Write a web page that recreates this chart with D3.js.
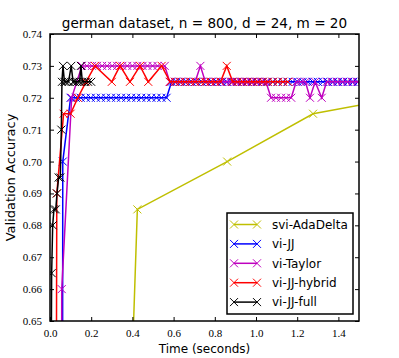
<!DOCTYPE html>
<html>
<head>
<meta charset="UTF-8">
<style>
    body { margin: 0; background: #fff; }
    svg { display: block; }
    .tick-label { font-family: "Liberation Serif", serif; font-size: 11px; }
    .sans { font-family: "DejaVu Sans", sans-serif; }
</style>
<script src="https://d3js.org/d3.v7.min.js"></script>
</head>
<body>
<svg id="chart" width="399" height="358"></svg>
<script>
    // 各条曲线的数据 [时间(秒), 验证准确率]
    const sviAdaDelta = [[0.38, 0.60], [0.424, 0.685], [0.86, 0.70], [1.277, 0.715], [1.71, 0.7202]];

    const viJJ = [
        [0.060, 0.55], [0.062, 0.70], [0.100, 0.72], [0.125, 0.72], [0.149, 0.72], [0.174, 0.72], [0.198, 0.72],
        [0.223, 0.72], [0.247, 0.72], [0.272, 0.72], [0.296, 0.72], [0.321, 0.72], [0.345, 0.72], [0.370, 0.72],
        [0.394, 0.72], [0.419, 0.72], [0.443, 0.72], [0.468, 0.72], [0.492, 0.72], [0.517, 0.72], [0.541, 0.72],
        [0.566, 0.72], [0.590, 0.725], [0.614, 0.725], [0.639, 0.725], [0.663, 0.725], [0.688, 0.725], [0.712, 0.725],
        [0.737, 0.725], [0.761, 0.725], [0.786, 0.725], [0.810, 0.725], [0.835, 0.725], [0.859, 0.725], [0.884, 0.725],
        [0.908, 0.725], [0.933, 0.725], [0.957, 0.725], [0.982, 0.725], [1.006, 0.725], [1.031, 0.725], [1.055, 0.725],
        [1.080, 0.725], [1.104, 0.725], [1.129, 0.725], [1.153, 0.725], [1.178, 0.725], [1.202, 0.725], [1.227, 0.725],
        [1.251, 0.725], [1.276, 0.725], [1.300, 0.725], [1.325, 0.725], [1.349, 0.725], [1.374, 0.725], [1.398, 0.725],
        [1.423, 0.725], [1.447, 0.725], [1.472, 0.725], [1.496, 0.725], [1.521, 0.725]
    ];

    const viTaylor = [
        [0.055, 0.55], [0.057, 0.66], [0.105, 0.72], [0.155, 0.73], [0.179, 0.73], [0.204, 0.73], [0.228, 0.73],
        [0.253, 0.73], [0.277, 0.73], [0.302, 0.73], [0.326, 0.73], [0.351, 0.73], [0.375, 0.73], [0.400, 0.73],
        [0.424, 0.73], [0.449, 0.73], [0.473, 0.73], [0.498, 0.73], [0.522, 0.73], [0.557, 0.73], [0.581, 0.725],
        [0.606, 0.725], [0.630, 0.725], [0.655, 0.725], [0.680, 0.725], [0.705, 0.725], [0.730, 0.73], [0.754, 0.725],
        [0.779, 0.725], [0.803, 0.725], [0.828, 0.725], [0.852, 0.725], [0.877, 0.725], [0.901, 0.725], [0.926, 0.725],
        [0.950, 0.725], [0.975, 0.725], [0.999, 0.725], [1.024, 0.725], [1.048, 0.725], [1.073, 0.72], [1.097, 0.72],
        [1.122, 0.72], [1.146, 0.72], [1.171, 0.72], [1.195, 0.725], [1.218, 0.725], [1.240, 0.725], [1.262, 0.72],
        [1.287, 0.725], [1.319, 0.72], [1.343, 0.725], [1.367, 0.725], [1.392, 0.725], [1.416, 0.725], [1.441, 0.725],
        [1.465, 0.725], [1.490, 0.725], [1.514, 0.725]
    ];

    const viJJHybrid = [
        [0.028, 0.55], [0.033, 0.69], [0.066, 0.715], [0.100, 0.715], [0.135, 0.72], [0.175, 0.725], [0.218, 0.73],
        [0.300, 0.725], [0.340, 0.73], [0.388, 0.725], [0.437, 0.73], [0.477, 0.725], [0.542, 0.73], [0.583, 0.725],
        [0.607, 0.725], [0.632, 0.725], [0.656, 0.725], [0.681, 0.725], [0.705, 0.725], [0.730, 0.725], [0.754, 0.725],
        [0.779, 0.725], [0.803, 0.725], [0.828, 0.725], [0.858, 0.73], [0.887, 0.725], [0.911, 0.725], [0.936, 0.725],
        [0.960, 0.725], [0.985, 0.725], [1.009, 0.725], [1.034, 0.725], [1.058, 0.725], [1.083, 0.725], [1.107, 0.725],
        [1.132, 0.725], [1.156, 0.725]
    ];

    const viJJFull = [
        [0.003, 0.60], [0.008, 0.665], [0.013, 0.68], [0.019, 0.685], [0.028, 0.685], [0.034, 0.69], [0.042, 0.695],
        [0.050, 0.695], [0.055, 0.71], [0.058, 0.725], [0.063, 0.73], [0.070, 0.725], [0.078, 0.725], [0.090, 0.725],
        [0.103, 0.73], [0.112, 0.725], [0.120, 0.725], [0.132, 0.725], [0.144, 0.725], [0.150, 0.73], [0.157, 0.725],
        [0.168, 0.725], [0.185, 0.725], [0.200, 0.725]
    ];

    const seriesNames = ["svi-AdaDelta", "vi-JJ", "vi-Taylor", "vi-JJ-hybrid", "vi-JJ-full"];
    const seriesData = [sviAdaDelta, viJJ, viTaylor, viJJHybrid, viJJFull];
    const seriesColors = ["#bfbf00", "#0000ff", "#bf00bf", "#ff0000", "#000000"];

    const xTicks = [0.0, 0.2, 0.4, 0.6, 0.8, 1.0, 1.2, 1.4];
    const yTicks = [0.65, 0.66, 0.67, 0.68, 0.69, 0.70, 0.71, 0.72, 0.73, 0.74];

    const svg = d3.select("#chart");
    const margin = { top: 34, right: 40, bottom: 37, left: 50 };
    const width = 399 - margin.left - margin.right;
    const height = 358 - margin.top - margin.bottom;

    const g = svg.append("g")
        .attr("transform", `translate(${margin.left},${margin.top})`);

    const x = d3.scaleLinear().domain([0, 1.5]).range([0, width]);
    const y = d3.scaleLinear().domain([0.65, 0.74]).range([height, 0]);

    // 裁剪区域
    svg.append("defs").append("clipPath").attr("id", "clip")
        .append("rect").attr("width", width).attr("height", height);

    const plot = g.append("g").attr("clip-path", "url(#clip)");

    // x 形标记
    function drawMarker(sel, cx, cy, color, r) {
        sel.append("path")
            .attr("d", `M${cx - r},${cy - r}L${cx + r},${cy + r}M${cx - r},${cy + r}L${cx + r},${cy - r}`)
            .attr("stroke", color)
            .attr("stroke-width", 1)
            .attr("fill", "none");
    }

    const line = d3.line().x(d => x(d[0])).y(d => y(d[1]));

    seriesData.forEach((data, i) => {
        plot.append("path")
            .datum(data)
            .attr("fill", "none")
            .attr("stroke", seriesColors[i])
            .attr("stroke-width", 1.5)
            .attr("d", line);
        const mg = plot.append("g");
        data.forEach(d => drawMarker(mg, x(d[0]), y(d[1]), seriesColors[i], 4));
    });

    // 坐标轴（刻度朝内）
    g.append("g")
        .attr("transform", `translate(0,${height})`)
        .call(d3.axisBottom(x).tickValues(xTicks).tickSizeInner(-4).tickSizeOuter(0).tickPadding(8).tickFormat(d3.format(".1f")))
        .call(a => a.select(".domain").remove())
        .selectAll("text").attr("class", "tick-label");

    g.append("g")
        .call(d3.axisTop(x).tickValues(xTicks).tickSizeInner(-4).tickSizeOuter(0).tickFormat(""))
        .call(a => a.select(".domain").remove());

    g.append("g")
        .call(d3.axisLeft(y).tickValues(yTicks).tickSizeInner(-4).tickSizeOuter(0).tickPadding(8).tickFormat(d3.format(".2f")))
        .call(a => a.select(".domain").remove())
        .selectAll("text").attr("class", "tick-label");

    g.append("g")
        .attr("transform", `translate(${width},0)`)
        .call(d3.axisRight(y).tickValues(yTicks).tickSizeInner(-4).tickSizeOuter(0).tickFormat(""))
        .call(a => a.select(".domain").remove());

    g.selectAll(".tick line").attr("stroke", "#000").attr("stroke-width", 1);
    g.selectAll(".tick-label").attr("fill", "#000").style("font-size", "11px");

    // 边框
    g.append("rect")
        .attr("width", width).attr("height", height)
        .attr("fill", "none").attr("stroke", "#000").attr("stroke-width", 1.5);

    // 标题和轴标签
    svg.append("text").attr("class", "sans")
        .attr("x", margin.left + width / 2).attr("y", 28)
        .attr("text-anchor", "middle").style("font-size", "13.6px")
        .text("german dataset, n = 800, d = 24, m = 20");

    svg.append("text").attr("class", "sans")
        .attr("x", margin.left + width / 2).attr("y", 353)
        .attr("text-anchor", "middle").style("font-size", "12px")
        .text("Time (seconds)");

    svg.append("text").attr("class", "sans")
        .attr("transform", `translate(15,${margin.top + height / 2}) rotate(-90)`)
        .attr("text-anchor", "middle").style("font-size", "13px")
        .text("Validation Accuracy");

    // 图例
    const legend = svg.append("g").attr("transform", "translate(227,213)");
    legend.append("rect")
        .attr("width", 126).attr("height", 101)
        .attr("fill", "#fff").attr("stroke", "#000").attr("stroke-width", 1.5);

    seriesNames.forEach((name, i) => {
        const ly = 11.5 + i * 19.4;
        legend.append("line")
            .attr("x1", 7).attr("x2", 30).attr("y1", ly).attr("y2", ly)
            .attr("stroke", seriesColors[i]).attr("stroke-width", 1.5);
        drawMarker(legend, 7, ly, seriesColors[i], 4);
        drawMarker(legend, 30, ly, seriesColors[i], 4);
        legend.append("text").attr("class", "sans")
            .attr("x", 45).attr("y", ly).attr("dy", "0.35em")
            .style("font-size", "12px")
            .text(name);
    });
</script>
</body>
</html>
